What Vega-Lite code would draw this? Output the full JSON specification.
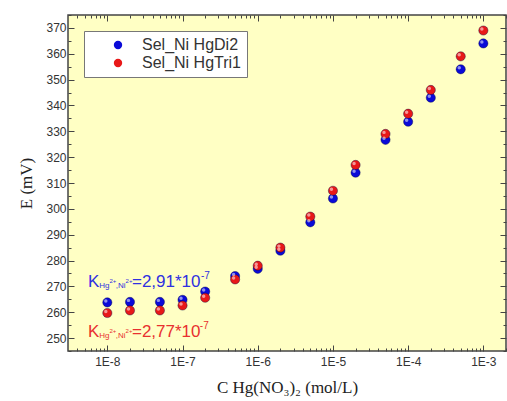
{
  "$schema": "https://vega.github.io/schema/vega-lite/v6.json",
  "width": 438,
  "height": 336,
  "autosize": "none",
  "padding": {"left": 68, "top": 15, "right": 1, "bottom": 50},
  "background": "white",
  "config": {
    "view": {"fill": "#FFFFC4", "stroke": "#444444", "strokeWidth": 1.5},
    "axis": {"labelFont": "Liberation Sans", "labelFontSize": 12, "labelColor": "#333333", "tickColor": "#444444", "domainColor": "#444444", "grid": false, "titleFont": "Liberation Serif", "titleFontSize": 17, "titleFontWeight": "normal", "titleColor": "#222222"}
  },
  "datasets": {
    "pts": [
      {"series": "Sel_Ni HgDi2", "c": 1e-8, "E": 263.8},
      {"series": "Sel_Ni HgDi2", "c": 2e-8, "E": 264},
      {"series": "Sel_Ni HgDi2", "c": 5e-8, "E": 264},
      {"series": "Sel_Ni HgDi2", "c": 1e-7, "E": 264.8},
      {"series": "Sel_Ni HgDi2", "c": 2e-7, "E": 268},
      {"series": "Sel_Ni HgDi2", "c": 5e-7, "E": 274},
      {"series": "Sel_Ni HgDi2", "c": 1e-6, "E": 276.8},
      {"series": "Sel_Ni HgDi2", "c": 2e-6, "E": 283.8},
      {"series": "Sel_Ni HgDi2", "c": 5e-6, "E": 294.8},
      {"series": "Sel_Ni HgDi2", "c": 1e-5, "E": 304},
      {"series": "Sel_Ni HgDi2", "c": 2e-5, "E": 314},
      {"series": "Sel_Ni HgDi2", "c": 5e-5, "E": 326.7},
      {"series": "Sel_Ni HgDi2", "c": 1e-4, "E": 333.7},
      {"series": "Sel_Ni HgDi2", "c": 2e-4, "E": 343},
      {"series": "Sel_Ni HgDi2", "c": 5e-4, "E": 354},
      {"series": "Sel_Ni HgDi2", "c": 1e-3, "E": 364},
      {"series": "Sel_Ni HgTri1", "c": 1e-8, "E": 259.7},
      {"series": "Sel_Ni HgTri1", "c": 2e-8, "E": 260.7},
      {"series": "Sel_Ni HgTri1", "c": 5e-8, "E": 260.7},
      {"series": "Sel_Ni HgTri1", "c": 1e-7, "E": 262.6},
      {"series": "Sel_Ni HgTri1", "c": 2e-7, "E": 265.6},
      {"series": "Sel_Ni HgTri1", "c": 5e-7, "E": 272.7},
      {"series": "Sel_Ni HgTri1", "c": 1e-6, "E": 278},
      {"series": "Sel_Ni HgTri1", "c": 2e-6, "E": 285},
      {"series": "Sel_Ni HgTri1", "c": 5e-6, "E": 297},
      {"series": "Sel_Ni HgTri1", "c": 1e-5, "E": 307},
      {"series": "Sel_Ni HgTri1", "c": 2e-5, "E": 317},
      {"series": "Sel_Ni HgTri1", "c": 5e-5, "E": 329},
      {"series": "Sel_Ni HgTri1", "c": 1e-4, "E": 336.8},
      {"series": "Sel_Ni HgTri1", "c": 2e-4, "E": 346},
      {"series": "Sel_Ni HgTri1", "c": 5e-4, "E": 359},
      {"series": "Sel_Ni HgTri1", "c": 1e-3, "E": 369}
    ],
    "ann": [
      {"series": "Sel_Ni HgDi2", "part": "main", "t": "K", "c": 5.534e-9, "E": 269.6},
      {"series": "Sel_Ni HgDi2", "part": "sub", "t": "Hg", "c": 7.82e-9, "E": 269.6},
      {"series": "Sel_Ni HgDi2", "part": "subsup", "t": "2+", "c": 1.069e-8, "E": 269.6},
      {"series": "Sel_Ni HgDi2", "part": "sub", "t": ",Ni", "c": 1.296e-8, "E": 269.6},
      {"series": "Sel_Ni HgDi2", "part": "subsup", "t": "2+", "c": 1.75e-8, "E": 269.6},
      {"series": "Sel_Ni HgDi2", "part": "main", "t": "=2,91*10", "c": 2.128e-8, "E": 269.6},
      {"series": "Sel_Ni HgDi2", "part": "exp", "t": "-7", "c": 1.76e-7, "E": 269.6},
      {"series": "Sel_Ni HgTri1", "part": "main", "t": "K", "c": 5.534e-9, "E": 250.6},
      {"series": "Sel_Ni HgTri1", "part": "sub", "t": "Hg", "c": 7.82e-9, "E": 250.6},
      {"series": "Sel_Ni HgTri1", "part": "subsup", "t": "2+", "c": 1.069e-8, "E": 250.6},
      {"series": "Sel_Ni HgTri1", "part": "sub", "t": ",Ni", "c": 1.296e-8, "E": 250.6},
      {"series": "Sel_Ni HgTri1", "part": "subsup", "t": "2+", "c": 1.75e-8, "E": 250.6},
      {"series": "Sel_Ni HgTri1", "part": "main", "t": "=2,77*10", "c": 2.128e-8, "E": 250.6},
      {"series": "Sel_Ni HgTri1", "part": "exp", "t": "-7", "c": 1.7e-7, "E": 250.6}
    ]
  },
  "layer": [
    {
      "data": {"name": "pts"},
      "mark": {"type": "point", "filled": true, "size": 85, "opacity": 1, "stroke": "#000040", "strokeWidth": 0.4},
      "encoding": {
        "x": {"field": "c", "type": "quantitative", "scale": {"type": "log", "domain": [3e-9, 2e-3]},
          "axis": {"orient": "bottom", "title": "C Hg(NO₃)₂ (mol/L)", "values": [1e-8, 1e-7, 1e-6, 1e-5, 1e-4, 1e-3], "labelExpr": "'1E' + round(log(datum.value)/LN10)", "tickSize": -6, "labelPadding": 11, "domain": false, "titlePadding": 12}},
        "y": {"field": "E", "type": "quantitative", "scale": {"domain": [245, 375], "nice": false, "zero": false},
          "axis": {"orient": "left", "title": "E (mV)", "values": [250, 260, 270, 280, 290, 300, 310, 320, 330, 340, 350, 360, 370], "tickSize": -6, "labelPadding": 8, "domain": false, "titlePadding": 10}},
        "color": {"field": "series", "type": "nominal", "scale": {"domain": ["Sel_Ni HgDi2", "Sel_Ni HgTri1"], "range": ["#0A0AD8", "#E81818"]},
          "legend": {"orient": "none", "legendX": 16, "legendY": 16, "title": null, "fillColor": "white", "strokeColor": "#777777", "padding": 6, "labelFont": "Liberation Sans", "labelFontSize": 16, "labelColor": "#333333", "symbolType": "circle", "symbolSize": 70, "symbolOffset": 20, "labelOffset": 16, "rowPadding": 2, "symbolStrokeWidth": 0}}
      }
    },
    {
      "data": {"name": "pts"},
      "mark": {"type": "point", "filled": true, "size": 12, "color": "white", "opacity": 0.55, "xOffset": -1.5, "yOffset": -1.5},
      "encoding": {
        "x": {"field": "c", "type": "quantitative", "scale": {"type": "log", "domain": [3e-9, 2e-3]},
          "axis": {"orient": "bottom", "title": null, "values": [4e-9, 5e-9, 6e-9, 7e-9, 8e-9, 9e-9, 2e-8, 3e-8, 4e-8, 5e-8, 6e-8, 7e-8, 8e-8, 9e-8, 2e-7, 3e-7, 4e-7, 5e-7, 6e-7, 7e-7, 8e-7, 9e-7, 2e-6, 3e-6, 4e-6, 5e-6, 6e-6, 7e-6, 8e-6, 9e-6, 2e-5, 3e-5, 4e-5, 5e-5, 6e-5, 7e-5, 8e-5, 9e-5, 2e-4, 3e-4, 4e-4, 5e-4, 6e-4, 7e-4, 8e-4, 9e-4, 2e-3], "labels": false, "tickSize": -3, "domain": false}},
        "y": {"field": "E", "type": "quantitative", "scale": {"domain": [245, 375], "nice": false, "zero": false},
          "axis": {"orient": "left", "title": null, "values": [245, 255, 265, 275, 285, 295, 305, 315, 325, 335, 345, 355, 365, 375], "labels": false, "tickSize": -3, "domain": false}}
      }
    },
    {
      "data": {"name": "ann"},
      "transform": [{"filter": "datum.part == 'main'"}],
      "mark": {"type": "text", "font": "Liberation Sans", "fontSize": 17, "align": "left", "baseline": "alphabetic"},
      "encoding": {
        "x": {"field": "c", "type": "quantitative", "scale": {"type": "log", "domain": [3e-9, 2e-3]},
          "axis": {"orient": "top", "title": null, "values": [1e-8, 1e-7, 1e-6, 1e-5, 1e-4, 1e-3], "labels": false, "tickSize": -6, "domain": false}},
        "y": {"field": "E", "type": "quantitative", "scale": {"domain": [245, 375], "nice": false, "zero": false},
          "axis": {"orient": "right", "title": null, "values": [250, 260, 270, 280, 290, 300, 310, 320, 330, 340, 350, 360, 370], "labels": false, "tickSize": -6, "domain": false}},
        "text": {"field": "t"},
        "color": {"condition": {"test": "datum.series == 'Sel_Ni HgDi2'", "value": "#3030E0"}, "value": "#E83030"}
      }
    },
    {
      "data": {"name": "ann"},
      "transform": [{"filter": "datum.part == 'sub'"}],
      "mark": {"type": "text", "font": "Liberation Sans", "fontSize": 8, "align": "left", "baseline": "alphabetic", "dy": 1},
      "encoding": {
        "x": {"field": "c", "type": "quantitative", "scale": {"type": "log", "domain": [3e-9, 2e-3]},
          "axis": {"orient": "top", "title": null, "values": [4e-9, 5e-9, 6e-9, 7e-9, 8e-9, 9e-9, 2e-8, 3e-8, 4e-8, 5e-8, 6e-8, 7e-8, 8e-8, 9e-8, 2e-7, 3e-7, 4e-7, 5e-7, 6e-7, 7e-7, 8e-7, 9e-7, 2e-6, 3e-6, 4e-6, 5e-6, 6e-6, 7e-6, 8e-6, 9e-6, 2e-5, 3e-5, 4e-5, 5e-5, 6e-5, 7e-5, 8e-5, 9e-5, 2e-4, 3e-4, 4e-4, 5e-4, 6e-4, 7e-4, 8e-4, 9e-4, 2e-3], "labels": false, "tickSize": -3, "domain": false}},
        "y": {"field": "E", "type": "quantitative", "scale": {"domain": [245, 375], "nice": false, "zero": false},
          "axis": {"orient": "right", "title": null, "values": [245, 255, 265, 275, 285, 295, 305, 315, 325, 335, 345, 355, 365, 375], "labels": false, "tickSize": -3, "domain": false}},
        "text": {"field": "t"},
        "color": {"condition": {"test": "datum.series == 'Sel_Ni HgDi2'", "value": "#3030E0"}, "value": "#E83030"}
      }
    },
    {
      "data": {"name": "ann"},
      "transform": [{"filter": "datum.part == 'subsup'"}],
      "mark": {"type": "text", "font": "Liberation Sans", "fontSize": 6, "align": "left", "baseline": "alphabetic", "dy": -4},
      "encoding": {
        "x": {"field": "c", "type": "quantitative", "scale": {"type": "log", "domain": [3e-9, 2e-3]}, "axis": null},
        "y": {"field": "E", "type": "quantitative", "scale": {"domain": [245, 375], "nice": false, "zero": false}, "axis": null},
        "text": {"field": "t"},
        "color": {"condition": {"test": "datum.series == 'Sel_Ni HgDi2'", "value": "#3030E0"}, "value": "#E83030"}
      }
    },
    {
      "data": {"name": "ann"},
      "transform": [{"filter": "datum.part == 'exp'"}],
      "mark": {"type": "text", "font": "Liberation Sans", "fontSize": 10, "align": "left", "baseline": "alphabetic", "dy": -8},
      "encoding": {
        "x": {"field": "c", "type": "quantitative", "scale": {"type": "log", "domain": [3e-9, 2e-3]}, "axis": null},
        "y": {"field": "E", "type": "quantitative", "scale": {"domain": [245, 375], "nice": false, "zero": false}, "axis": null},
        "text": {"field": "t"},
        "color": {"condition": {"test": "datum.series == 'Sel_Ni HgDi2'", "value": "#3030E0"}, "value": "#E83030"}
      }
    }
  ],
  "resolve": {"axis": {"x": "independent", "y": "independent"}}
}
